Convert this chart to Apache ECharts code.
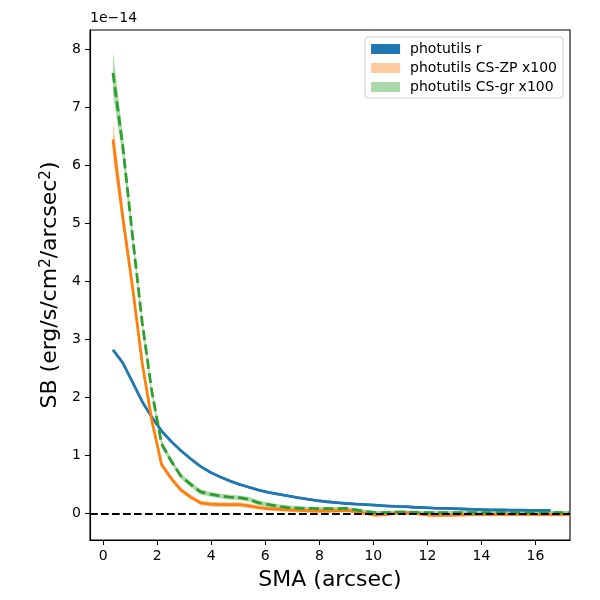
<!DOCTYPE html>
<html>
<head>
<meta charset="utf-8">
<script src="https://cdn.jsdelivr.net/npm/echarts@6/dist/echarts.min.js"></script>
<style>
  html, body { margin: 0; padding: 0; background: #fff; }
  #chart { width: 600px; height: 600px; }
</style>
</head>
<body>
<div id="chart"></div>
<script>
// SMA grid (arcsec)
const sma = [0.36, 0.72, 1.08, 1.44, 1.80, 2.16, 2.52, 2.88, 3.24, 3.60, 3.96, 4.32,
  4.68, 5.04, 5.40, 5.76, 6.12, 6.48, 6.84, 7.20, 7.56, 7.92, 8.28, 8.64,
  9.00, 9.36, 9.72, 10.08, 10.44, 10.80, 11.16, 11.52, 11.88, 12.24, 12.60, 12.96,
  13.32, 13.68, 14.04, 14.40, 14.76, 15.12, 15.48, 15.84, 16.20, 16.56, 16.92, 17.28];

// surface brightness, units of 1e-14
const sbR = [2.82, 2.60, 2.27, 1.93, 1.66, 1.42, 1.24, 1.08, 0.94, 0.81, 0.71, 0.63,
  0.56, 0.50, 0.45, 0.40, 0.36, 0.33, 0.30, 0.27, 0.245, 0.22, 0.20, 0.185,
  0.17, 0.16, 0.15, 0.14, 0.13, 0.12, 0.115, 0.105, 0.10, 0.09, 0.085, 0.08,
  0.075, 0.07, 0.065, 0.06, 0.058, 0.056, 0.054, 0.052, 0.05, 0.05];
const errR = [0.02, 0.02, 0.02, 0.02, 0.02, 0.02, 0.02, 0.02, 0.02, 0.02, 0.02, 0.02,
  0.02, 0.02, 0.02, 0.02, 0.02, 0.02, 0.02, 0.02, 0.02, 0.02, 0.02, 0.02,
  0.02, 0.02, 0.02, 0.02, 0.02, 0.02, 0.02, 0.02, 0.02, 0.02, 0.02, 0.02,
  0.02, 0.02, 0.02, 0.02, 0.02, 0.02, 0.02, 0.02, 0.02, 0.02];

const sbZP = [6.45, 5.12, 3.92, 2.6, 1.6, 0.84, 0.6, 0.4, 0.28, 0.18, 0.16, 0.15,
  0.15, 0.15, 0.13, 0.10, 0.08, 0.07, 0.06, 0.05, 0.045, 0.04, 0.04, 0.045,
  0.05, 0.03, 0.0, -0.03, -0.02, 0.0, 0.01, 0.0, -0.02, -0.035, -0.035, -0.03,
  -0.025, -0.02, -0.02, -0.02, -0.02, -0.02, -0.02, -0.02, -0.02, -0.02, -0.02, -0.02];
const errZP = [0.32, 0.18, 0.12, 0.08, 0.06, 0.05, 0.045, 0.04, 0.04, 0.04, 0.04, 0.04,
  0.04, 0.04, 0.04, 0.035, 0.035, 0.035, 0.035, 0.035, 0.03, 0.03, 0.03, 0.03,
  0.03, 0.03, 0.03, 0.03, 0.03, 0.03, 0.03, 0.03, 0.03, 0.03, 0.03, 0.03,
  0.03, 0.03, 0.03, 0.03, 0.03, 0.03, 0.03, 0.03, 0.03, 0.03, 0.03, 0.03];

const sbGR = [7.6, 6.35, 4.8, 3.3, 2.1, 1.2, 0.9, 0.64, 0.5, 0.37, 0.33, 0.30,
  0.28, 0.27, 0.24, 0.18, 0.15, 0.12, 0.10, 0.09, 0.085, 0.08, 0.08, 0.08,
  0.085, 0.06, 0.03, 0.01, 0.01, 0.02, 0.02, 0.015, 0.01, 0.01, 0.01, 0.01,
  0.01, 0.01, 0.01, 0.01, 0.01, 0.01, 0.01, 0.01, 0.01, 0.01, 0.01, 0.01];
const errGR = [0.36, 0.2, 0.13, 0.09, 0.07, 0.06, 0.05, 0.045, 0.045, 0.045, 0.04, 0.04,
  0.04, 0.04, 0.04, 0.04, 0.035, 0.035, 0.035, 0.035, 0.03, 0.03, 0.03, 0.03,
  0.03, 0.03, 0.03, 0.03, 0.03, 0.03, 0.03, 0.03, 0.03, 0.03, 0.03, 0.03,
  0.03, 0.03, 0.03, 0.03, 0.03, 0.03, 0.03, 0.03, 0.03, 0.03, 0.03, 0.03];

const xTicks = [0, 2, 4, 6, 8, 10, 12, 14, 16];
const yTicks = [0, 1, 2, 3, 4, 5, 6, 7, 8];

const FONT = "DejaVu Sans";

// shaded error band drawn as one polygon through the axes
function band(name, vals, errs, fill, opacity) {
  const data = vals.map((v, i) => [sma[i], v - errs[i], v + errs[i]]);
  return {
    name: name,
    type: "custom",
    clip: true,
    encode: { x: 0, y: [1, 2] },
    data: data,
    renderItem: (params, api) => {
      if (params.dataIndex !== 0) return null;
      const pts = [];
      data.forEach((d) => pts.push(api.coord([d[0], d[2]])));
      for (let i = data.length - 1; i >= 0; i--) pts.push(api.coord([data[i][0], data[i][1]]));
      return {
        type: "polygon",
        shape: { points: pts },
        style: { fill: fill, opacity: opacity },
        silent: true,
      };
    },
  };
}

function line(name, vals, color, dashed) {
  return {
    name: name,
    type: "line",
    data: vals.map((v, i) => [sma[i], v]),
    symbol: "none",
    lineStyle: { color: color, width: 2.8, type: dashed ? [10, 4.4] : "solid" },
    clip: true,
  };
}

const chart = echarts.init(document.getElementById("chart"));
chart.setOption({
  animation: false,
  grid: { left: 90, right: 30, top: 30, bottom: 60, show: true, borderColor: "#000", borderWidth: 1.1 },
  legend: {
    orient: "vertical",
    right: 37,
    top: 37,
    padding: [5, 6, 4, 6],
    itemGap: 5,
    itemWidth: 29,
    itemHeight: 10,
    icon: "rect",
    borderColor: "#cccccc",
    borderWidth: 1,
    borderRadius: 3,
    backgroundColor: "rgba(255,255,255,0.8)",
    textStyle: { fontFamily: FONT, fontSize: 14, color: "#000", padding: [0, 0, 0, 5] },
    data: [
      { name: "photutils r", itemStyle: { color: "#1f77b4" } },
      { name: "photutils CS-ZP x100", itemStyle: { color: "#ffcc9f" } },
      { name: "photutils CS-gr x100", itemStyle: { color: "#abd9ab" } },
    ],
  },
  graphic: [
    { type: "text", left: 90, top: 11, style: { text: "1e\u221214", font: "14px " + FONT, fill: "#000" } },
  ],
  xAxis: {
    type: "value",
    min: -0.49,
    max: 17.28,
    name: "SMA (arcsec)",
    nameLocation: "middle",
    nameGap: 29,
    nameTextStyle: { fontFamily: FONT, fontSize: 22, color: "#000" },
    axisLine: { show: true, onZero: false, lineStyle: { color: "#000", width: 1.1 } },
    axisTick: { show: true, inside: false, length: 5, customValues: xTicks, lineStyle: { color: "#000" } },
    axisLabel: { customValues: xTicks, fontFamily: FONT, fontSize: 14, color: "#000", margin: 9 },
    splitLine: { show: false },
  },
  yAxis: {
    type: "value",
    min: -0.46,
    max: 8.34,
    name: "SB (erg/s/cm{s|2}/arcsec{s|2})",
    nameLocation: "middle",
    nameGap: 27,
    nameRotate: 90,
    nameTextStyle: {
      fontFamily: FONT, fontSize: 22, color: "#000",
      rich: { s: { fontFamily: FONT, fontSize: 15, color: "#000", verticalAlign: "top", padding: [0, 0, 9, 0] } },
    },
    axisLine: { show: true, onZero: false, lineStyle: { color: "#000", width: 1.1 } },
    axisTick: { show: true, inside: false, length: 5, customValues: yTicks, lineStyle: { color: "#000" } },
    axisLabel: { customValues: yTicks, fontFamily: FONT, fontSize: 14, color: "#000", margin: 9 },
    splitLine: { show: false },
  },
  series: [
    band("photutils r", sbR, errR, "#1f77b4", 1),
    line("r line", sbR, "#1f77b4", false),
    band("photutils CS-ZP x100", sbZP, errZP, "#ff7f0e", 0.4),
    line("ZP line", sbZP, "#ff7f0e", false),
    band("photutils CS-gr x100", sbGR, errGR, "#2ca02c", 0.4),
    line("gr line", sbGR, "#2ca02c", true),
    {
      name: "zero",
      type: "line",
      data: [],
      z: 5,
      markLine: {
        silent: true,
        symbol: "none",
        label: { show: false },
        lineStyle: { color: "#000", width: 2, type: [7.7, 3.3] },
        data: [{ yAxis: 0 }],
      },
    },
  ],
});
</script>
</body>
</html>
